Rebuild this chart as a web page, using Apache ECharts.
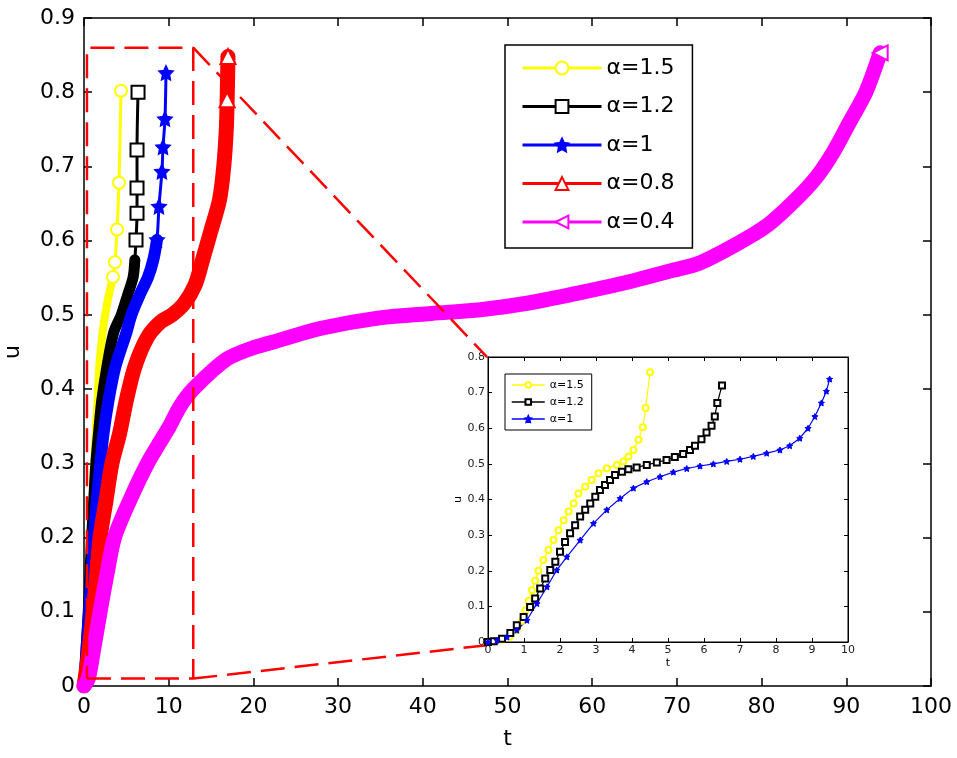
<!DOCTYPE html>
<html>
<head>
<meta charset="utf-8">
<script src="https://cdn.jsdelivr.net/npm/echarts@6.0.0/dist/echarts.min.js"></script>
<style>
  html, body { margin: 0; padding: 0; background: #fff; }
  #main { width: 957px; height: 758px; }
</style>
</head>
<body>
<div id="main"></div>
<script>
// main plot, [t, u]
var mainA15 = [[0,0],[0.2,0.05],[0.45,0.1],[0.65,0.15],[0.8,0.2],[1.0,0.25],[1.2,0.3],[1.4,0.345],[1.6,0.385],[1.8,0.43],[2.2,0.476],[2.5,0.5],[2.9,0.525],[3.2,0.54],[3.42,0.551],[3.66,0.571],[3.9,0.615],[4.13,0.678],[4.37,0.802]];
var mainA12 = [[0,0],[0.25,0.05],[0.5,0.1],[0.7,0.15],[0.9,0.2],[1.15,0.25],[1.4,0.3],[1.75,0.345],[2.1,0.385],[2.7,0.43],[3.5,0.476],[4.4,0.5],[5.1,0.525],[5.8,0.551],[6.0,0.574],[6.14,0.601],[6.26,0.637],[6.26,0.671],[6.26,0.722],[6.38,0.80]];
var mainA10 = [[0,0],[0.3,0.05],[0.6,0.1],[0.9,0.15],[1.2,0.2],[1.5,0.25],[1.9,0.295],[2.3,0.34],[2.9,0.385],[3.7,0.43],[5.0,0.476],[5.6,0.5],[6.5,0.525],[7.56,0.551],[8.2,0.575],[8.62,0.601],[8.85,0.646],[9.2,0.693],[9.33,0.726],[9.56,0.764],[9.68,0.826]];
var mainA08 = [[0,0],[0.5,0.04],[1.1,0.1],[1.5,0.15],[1.9,0.2],[2.6,0.25],[3.3,0.3],[4.2,0.34],[5.0,0.385],[6.0,0.43],[7.5,0.47],[9.0,0.49],[10.4,0.5],[11.8,0.515],[13.1,0.54],[14.0,0.574],[14.9,0.61],[16.0,0.655],[16.5,0.7],[16.8,0.75],[16.9,0.79],[17.0,0.848]];
var mainA04 = [[0,0],[0.5,0.01],[1.0,0.04],[1.9,0.1],[2.7,0.15],[3.6,0.2],[5.4,0.25],[7.5,0.3],[10.1,0.35],[11.3,0.376],[12.9,0.4],[16.8,0.44],[19.8,0.455],[23.1,0.466],[28,0.482],[34.9,0.496],[41,0.502],[46.8,0.507],[52.5,0.516],[58.6,0.53],[64.5,0.545],[69.5,0.56],[72.7,0.57],[77,0.595],[80.6,0.62],[84,0.655],[86.5,0.686],[88.5,0.72],[90.4,0.76],[92.3,0.8],[94.0,0.853]];

// inset (zoom of t in 0..10)
var insetA15 = [[0,0],[0.16,0.002],[0.39,0.006],[0.6,0.015],[0.8,0.033],[0.95,0.06],[1.04,0.089],[1.13,0.115],[1.22,0.145],[1.31,0.172],[1.4,0.2],[1.54,0.23],[1.68,0.258],[1.82,0.286],[1.96,0.314],[2.1,0.342],[2.24,0.366],[2.38,0.389],[2.51,0.417],[2.7,0.436],[2.88,0.455],[3.07,0.474],[3.3,0.488],[3.58,0.497],[3.76,0.507],[3.9,0.521],[4.04,0.539],[4.18,0.568],[4.3,0.603],[4.38,0.657],[4.5,0.757]];
var insetA12 = [[0,0],[0.16,0.002],[0.39,0.009],[0.62,0.025],[0.8,0.047],[0.99,0.07],[1.17,0.098],[1.31,0.122],[1.45,0.15],[1.59,0.178],[1.73,0.202],[1.87,0.225],[2.0,0.253],[2.14,0.281],[2.28,0.305],[2.42,0.328],[2.56,0.352],[2.7,0.371],[2.84,0.389],[2.98,0.408],[3.11,0.427],[3.25,0.441],[3.39,0.455],[3.53,0.469],[3.72,0.478],[3.9,0.485],[4.13,0.49],[4.41,0.497],[4.69,0.504],[4.96,0.511],[5.19,0.519],[5.42,0.528],[5.61,0.539],[5.75,0.551],[5.93,0.569],[6.07,0.588],[6.21,0.607],[6.3,0.633],[6.37,0.671],[6.5,0.72]];
var insetA10 = [[0,0],[0.25,0.005],[0.53,0.014],[0.8,0.033],[1.08,0.061],[1.36,0.108],[1.64,0.155],[1.91,0.202],[2.19,0.239],[2.56,0.286],[2.93,0.333],[3.3,0.371],[3.67,0.403],[4.04,0.432],[4.41,0.45],[4.78,0.464],[5.15,0.477],[5.52,0.487],[5.89,0.494],[6.26,0.5],[6.63,0.507],[7.0,0.513],[7.37,0.521],[7.74,0.53],[8.11,0.539],[8.38,0.551],[8.66,0.572],[8.89,0.6],[9.08,0.633],[9.26,0.671],[9.4,0.704],[9.49,0.738]];

// dashed zoom box and its two connectors (main t,u)
var zoomBox = [[0.35,0.01],[12.9,0.01],[12.9,0.86],[0.35,0.86],[0.35,0.01]];
var linkTop = [[12.9,0.86],[47.6,0.443]];
var linkBottom = [[12.9,0.01],[47.6,0.055]];

var xTicksMain = [0, 100, 10];
var yTicksMain = [0, 0.9, 0.1];
var xTicksInset = [0, 10, 1];
var yTicksInset = [0, 0.8, 0.1];

var STAR = 'path://M0,-10L2.9,-4L9.5,-3.1L4.7,1.5L5.9,8.1L0,5L-5.9,8.1L-4.7,1.5L-9.5,-3.1L-2.9,-4Z';
var FONT = 'DejaVu Sans';

var myChart = echarts.init(document.getElementById('main'), null, {renderer: 'canvas'});

function axis(type, grid, pos, ticks, opts) {
    var a = {
        type: 'value',
        gridIndex: grid,
        position: pos,
        min: ticks[0],
        max: ticks[1],
        interval: ticks[2],
        splitLine: {show: false},
        axisLine: {show: true, onZero: false, lineStyle: {color: '#000', width: opts.lw}},
        axisTick: {show: true, inside: true, length: opts.tick, lineStyle: {color: '#000', width: opts.lw}},
        axisLabel: {show: opts.labels, color: opts.labelColor, fontSize: opts.fs, fontFamily: FONT, margin: opts.margin}
    };
    if (opts.name) {
        a.name = opts.name;
        a.nameLocation = 'middle';
        a.nameGap = opts.nameGap;
        a.nameTextStyle = {color: '#000', fontSize: opts.nameFs, fontFamily: FONT};
        if (type === 'y') a.nameRotate = 90;
    }
    return a;
}

// thick band where the markers pile up, then the legend series on top
// markers are only drawn above `markFrom` (below it they merge into the band)
function mainCurve(name, data, color, symbol, size, bandWidth, cut, markFrom, rotate) {
    return [{
        name: name + ' band',
        type: 'line',
        xAxisIndex: 0, yAxisIndex: 0,
        data: data.filter(function (p) { return p[1] <= cut; }),
        showSymbol: false,
        smooth: 0.3,
        lineStyle: {color: color, width: bandWidth, cap: 'round', join: 'round'},
        silent: true
    }, {
        name: name,
        type: 'line',
        xAxisIndex: 0, yAxisIndex: 0,
        data: data.map(function (p) {
            return p[1] >= markFrom ? {value: p} : {value: p, symbol: 'none'};
        }),
        symbol: symbol,
        symbolSize: size,
        symbolRotate: rotate || 0,
        showAllSymbol: true,
        smooth: 0.3,
        lineStyle: {color: color, width: 3},
        itemStyle: {color: color, borderColor: color, borderWidth: 2.5},
        silent: true
    }];
}

function insetCurve(name, data, color, symbol, size) {
    return {
        name: 'in:' + name,
        type: 'line',
        xAxisIndex: 2, yAxisIndex: 2,
        data: data,
        symbol: symbol,
        symbolSize: size,
        showAllSymbol: true,
        z: 6,
        lineStyle: {color: color, width: 1.2},
        itemStyle: {color: color, borderColor: color, borderWidth: 1},
        silent: true
    };
}

function dashed(data) {
    return {
        type: 'line',
        xAxisIndex: 0, yAxisIndex: 0,
        data: data,
        showSymbol: false,
        z: 5,
        lineStyle: {color: '#ff0000', width: 2.5, type: [24, 10]},
        silent: true
    };
}

var mainOpts = {lw: 1.5, tick: 8, fs: 22, labelColor: '#000'};
var insetOpts = {lw: 1, tick: 4, fs: 11, labelColor: '#222'};

var series = []
    .concat(mainCurve('α=1.5', mainA15, '#ffff00', 'emptyCircle', 12, 8, 0.56, 0.55))
    .concat(mainCurve('α=1.2', mainA12, '#000000', 'emptyRect', 13, 11, 0.58, 0.6))
    .concat(mainCurve('α=1', mainA10, '#0000ff', STAR, 12, 12, 0.62, 0.6))
    .concat(mainCurve('α=0.8', mainA08, '#ff0000', 'emptyTriangle', 15, 15, 1, 0.78))
    .concat(mainCurve('α=0.4', mainA04, '#ff00ff', 'emptyTriangle', 15, 15, 1, 0.84, 90))
    .concat([dashed(zoomBox), dashed(linkTop), dashed(linkBottom)])
    .concat([
        insetCurve('α=1.5', insetA15, '#ffff00', 'emptyCircle', 6),
        insetCurve('α=1.2', insetA12, '#000000', 'emptyRect', 6),
        insetCurve('α=1', insetA10, '#0000ff', STAR, 6)
    ]);

myChart.setOption({
    animation: false,
    backgroundColor: '#fff',
    grid: [
        {left: 84, right: 26, top: 18, bottom: 72, outerBoundsMode: 'none'},
        {left: 488, top: 357, width: 360, height: 285, show: true, z: 4,
         backgroundColor: '#fff', borderColor: '#000', borderWidth: 1, outerBoundsMode: 'none'}
    ],
    xAxis: [
        axis('x', 0, 'bottom', xTicksMain, Object.assign({labels: true, margin: 10, name: 't', nameGap: 42, nameFs: 22}, mainOpts)),
        axis('x', 0, 'top', xTicksMain, Object.assign({labels: false}, mainOpts)),
        Object.assign(axis('x', 1, 'bottom', xTicksInset, Object.assign({labels: true, margin: 3, name: 't', nameGap: 16, nameFs: 11}, insetOpts)), {z: 5}),
        Object.assign(axis('x', 1, 'top', xTicksInset, Object.assign({labels: false}, insetOpts)), {z: 5})
    ],
    yAxis: [
        axis('y', 0, 'left', yTicksMain, Object.assign({labels: true, margin: 9, name: 'u', nameGap: 60, nameFs: 22}, mainOpts)),
        axis('y', 0, 'right', yTicksMain, Object.assign({labels: false}, mainOpts)),
        Object.assign(axis('y', 1, 'left', yTicksInset, Object.assign({labels: true, margin: 3, name: 'u', nameGap: 21, nameFs: 11}, insetOpts)), {z: 5}),
        Object.assign(axis('y', 1, 'right', yTicksInset, Object.assign({labels: false}, insetOpts)), {z: 5})
    ],
    legend: [{
        data: ['α=1.5', 'α=1.2', 'α=1', 'α=0.8', 'α=0.4'],
        orient: 'vertical',
        left: 505,
        top: 45,
        itemWidth: 79,
        itemHeight: 16,
        itemGap: 14.5,
        padding: [11, 18, 14, 16],
        borderColor: '#000',
        borderWidth: 1.5,
        borderRadius: 0,
        backgroundColor: '#fff',
        selectedMode: false,
        lineStyle: {width: 3},
        textStyle: {fontSize: 22, lineHeight: 24, fontFamily: FONT, color: '#000'}
    }, {
        data: ['in:α=1.5', 'in:α=1.2', 'in:α=1'],
        formatter: function (n) { return n.replace('in:', ''); },
        orient: 'vertical',
        left: 505,
        top: 374,
        z: 8,
        itemWidth: 33,
        itemHeight: 7,
        itemGap: 5,
        padding: [5, 8, 5, 6],
        borderColor: '#000',
        borderWidth: 1,
        borderRadius: 0,
        backgroundColor: '#fff',
        selectedMode: false,
        lineStyle: {width: 1.5},
        textStyle: {fontSize: 11, lineHeight: 12, fontFamily: FONT, color: '#000'}
    }],
    series: series
});
</script>
</body>
</html>
